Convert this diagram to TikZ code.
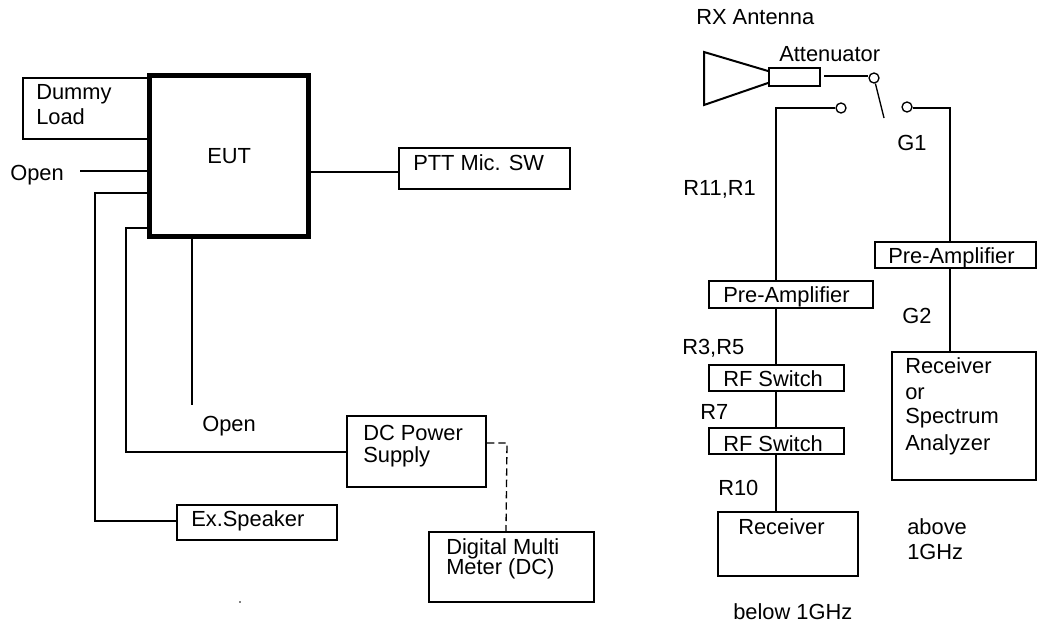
\documentclass[tikz,border=0pt]{standalone}
\usepackage{fontspec}
\setmainfont{Liberation Sans}
\tikzset{
  ln/.style={line width=1.5pt,black},
  bx/.style={draw=black,line width=1.5pt,fill=white,anchor=north west},
  txt/.style={inner sep=0pt,anchor=west,align=left,text height=11.8pt,text depth=0pt,font=\fontsize{16.4}{16}\selectfont},
  term/.style={circle,draw=black,line width=1pt,fill=white,minimum size=7.5pt,inner sep=0pt}
}
\begin{document}
\begin{tikzpicture}[x=0.75pt,y=-0.75pt]
\useasboundingbox (0,0) rectangle (1037,628);
% left side boxes
\node[bx,minimum width=94.5pt,minimum height=45.75pt] (dummy) at (22,77) {};
\node[draw=black,line width=3.4pt,fill=white,minimum width=119.6pt,minimum height=121pt,anchor=north west] (eut) at (147,73) {};
\node[bx,minimum width=128.25pt,minimum height=30.75pt] (ptt) at (398,147) {};
\node[bx,minimum width=104.25pt,minimum height=53.25pt] (dc) at (346,415) {};
\node[bx,minimum width=120pt,minimum height=26.25pt] (spk) at (176,504) {};
\node[bx,minimum width=123.75pt,minimum height=52.5pt] (dmm) at (428,531) {};
\node[txt] (tdummy) at (36,92) {Dummy};
\node[txt] (tload) at (36,117) {Load};
\node[txt] (teut) at (207,156) {EUT};
\node[txt] (tptt) at (413,163) {PTT Mic. SW};
\node[txt] (topen1) at (10,173) {Open};
\node[txt] (topen2) at (202,424) {Open};
\node[txt] (tdc) at (363,433) {DC Power};
\node[txt] (tsup) at (363,455) {Supply};
\node[txt] (tspk) at (191,519) {Ex.Speaker};
\node[txt] (tdmm) at (446,547) {Digital Multi};
\node[txt] (tmet) at (446,567) {Meter (DC)};
\coordinate (o1) at (80,171);
\coordinate (o1e) at (149,171);
\coordinate (o2) at (192,405);
\coordinate (o2e) at (192,237);
\coordinate (a1) at (149,193);
\coordinate (a2) at (95,193);
\coordinate (a3) at (95,521);
\coordinate (a4) at (177,521);
\coordinate (b1) at (149,228);
\coordinate (b2) at (126,228);
\coordinate (b3) at (126,452);
\coordinate (b4) at (347,452);
\coordinate (c1) at (487,443);
\coordinate (c2) at (507,443);
\coordinate (c3) at (506,531);
\coordinate (p1) at (311,172);
\draw[ln] (o1) -- (o1e);
\draw[ln] (o2e) -- (o2);
\draw[ln] (a1) -- (a2) -- (a3) -- (a4);
\draw[ln] (b1) -- (b2) -- (b3) -- (b4);
\draw[ln] (p1) -- (ptt.west |- p1);
\draw[line width=1pt,dash pattern=on 5.5pt off 3pt] (c1) -- (c2) -- (c3);
\fill (240,602) circle (0.6pt);
% right side
\node[txt] (trx) at (696,17) {RX Antenna};
\node[txt] (tatt) at (779,54) {Attenuator};
\node[txt] (tg1) at (897,143) {G1};
\node[txt] (tr11) at (683,188) {R11,R1};
\node[bx,minimum width=120.75pt,minimum height=19.5pt] (pa2) at (874,241) {};
\node[bx,minimum width=123pt,minimum height=20.25pt] (pa1) at (708,280) {};
\node[bx,minimum width=101.25pt,minimum height=19.5pt] (rf1) at (708,364) {};
\node[bx,minimum width=101.25pt,minimum height=19.5pt] (rf2) at (708,427) {};
\node[bx,minimum width=105pt,minimum height=48pt] (rcv1) at (717,511) {};
\node[bx,minimum width=108pt,minimum height=96pt] (rcv2) at (891,351) {};
\node[txt] (tpa2) at (888,256) {Pre-Amplifier};
\node[txt] (tpa1) at (723,295) {Pre-Amplifier};
\node[txt] (tr3) at (682,347) {R3,R5};
\node[txt] (trf1) at (723,379) {RF Switch};
\node[txt] (tr7) at (700,412) {R7};
\node[txt] (trf2) at (723,444) {RF Switch};
\node[txt] (tr10) at (718,488) {R10};
\node[txt] (tg2) at (902,316) {G2};
\node[txt] (trc1) at (738,527) {Receiver};
\node[txt] (tbelow) at (733,612) {below 1GHz};
\node[txt] (tabove) at (907,527) {above};
\node[txt] (tghz) at (907,552) {1GHz};
\node[txt] (trc2) at (905,366) {Receiver};
\node[txt] (tor) at (905,392) {or};
\node[txt] (tsp) at (905,416) {Spectrum};
\node[txt] (tan) at (905,443) {Analyzer};
\coordinate (h1) at (704,52);
\coordinate (h2) at (704,105);
\node[bx,minimum width=38.25pt,minimum height=13.5pt] (att) at (768,67) {};
\draw[ln,line join=miter] ([yshift=-3pt]att.north west) -- (h1) -- (h2) -- ([yshift=3pt]att.south west);
\node[term] (t0) at (874,78) {};
\node[term] (t1) at (841,108) {};
\node[term] (t2) at (907,107) {};
\coordinate (l0) at (824,76);
\coordinate (sw) at (884,118);
\coordinate (l1) at (776,108);
\coordinate (r1) at (950,108);
\draw[ln] (l0) -- (t0.west |- l0);
\draw[line width=1pt] (t0) -- (sw);
\draw[ln] (t1.west) -- (l1) -- (l1 |- pa1.north);
\draw[ln] (t2.east |- r1) -- (r1) -- (r1 |- pa2.north);
\draw[ln] (r1 |- pa2.south) -- (r1 |- rcv2.north);
\draw[ln] (l1 |- pa1.south) -- (l1 |- rf1.north);
\draw[ln] (l1 |- rf1.south) -- (l1 |- rf2.north);
\draw[ln] (l1 |- rf2.south) -- (l1 |- rcv1.north);
\end{tikzpicture}
\end{document}
